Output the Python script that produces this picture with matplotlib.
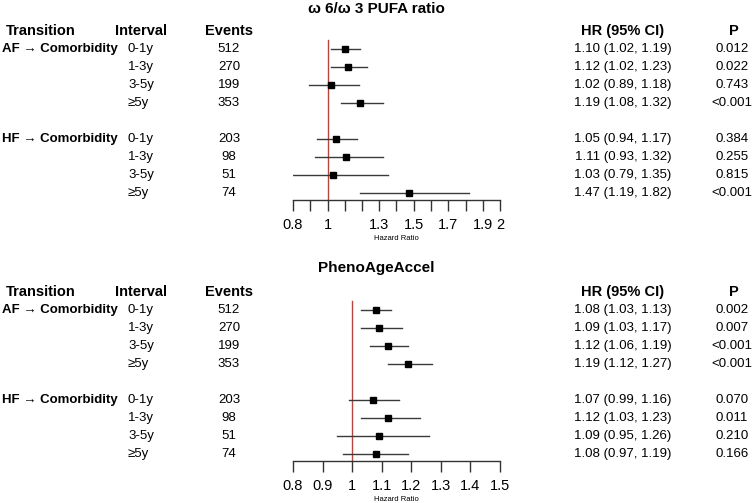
import matplotlib
matplotlib.use("Agg")
import matplotlib.pyplot as plt
import matplotlib.transforms as mtransforms

plt.rcParams['font.family'] = ['Liberation Sans', 'DejaVu Sans']

# ---- data ----
transitions = ["AF \u2192 Comorbidity", "HF \u2192 Comorbidity"]
intervals = ["0-1y", "1-3y", "3-5y", "\u22655y"]
events_af = [512, 270, 199, 353]
events_hf = [203, 98, 51, 74]

# omega 6 / omega 3 PUFA ratio
pufa_hr = [1.10, 1.12, 1.02, 1.19, 1.05, 1.11, 1.03, 1.47]
pufa_lo = [1.02, 1.02, 0.89, 1.08, 0.94, 0.93, 0.79, 1.19]
pufa_hi = [1.19, 1.23, 1.18, 1.32, 1.17, 1.32, 1.35, 1.82]
pufa_p = ["0.012", "0.022", "0.743", "<0.001", "0.384", "0.255", "0.815", "<0.001"]
pufa_ticks = [0.8, 0.9, 1.0, 1.1, 1.2, 1.3, 1.4, 1.5, 1.6, 1.7, 1.8, 1.9, 2.0]
pufa_ticklabels = ["0.8", "", "1", "", "", "1.3", "", "1.5", "", "1.7", "", "1.9", "2"]

# PhenoAgeAccel
pheno_hr = [1.08, 1.09, 1.12, 1.19, 1.07, 1.12, 1.09, 1.08]
pheno_lo = [1.03, 1.03, 1.06, 1.12, 0.99, 1.03, 0.95, 0.97]
pheno_hi = [1.13, 1.17, 1.19, 1.27, 1.16, 1.23, 1.26, 1.19]
pheno_p = ["0.002", "0.007", "<0.001", "<0.001", "0.070", "0.011", "0.210", "0.166"]
pheno_ticks = [0.8, 0.9, 1.0, 1.1, 1.2, 1.3, 1.4, 1.5]
pheno_ticklabels = ["0.8", "0.9", "1", "1.1", "1.2", "1.3", "1.4", "1.5"]

W, H = 752, 503
fig = plt.figure(figsize=(W / 100, H / 100), dpi=100)

row_pos = [1, 2, 3, 4, 6, 7, 8, 9]
y_axis = 9.4


def panel(title, hr, lo, hi, pv, ticks, ticklabels, top_px, axis_px, title_px):
    ax = fig.add_axes([293 / W, 1 - axis_px / H, 207 / W, (axis_px - top_px) / H])
    ax.set_xlim(ticks[0], ticks[-1])
    ax.set_ylim(y_axis, 0)
    for s in ["top", "right", "left"]:
        ax.spines[s].set_visible(False)
    ax.spines["bottom"].set_linewidth(1.0)
    ax.spines["bottom"].set_color("#333333")
    ax.set_yticks([])
    ax.set_xticks(ticks)
    ax.set_xticklabels(ticklabels, fontsize=10.5)
    ax.tick_params(axis="x", length=8, width=1.0, color="#333333", pad=5)
    ax.set_xlabel("Hazard Ratio", fontsize=5.5, labelpad=2)
    ax.patch.set_alpha(0)

    ax.plot([1, 1], [0.5, y_axis], color="#B8443F", lw=1.0, zorder=1)
    for y, h, l, u in zip(row_pos, hr, lo, hi):
        ax.plot([l, u], [y, y], color="#3a3a3a", lw=1.0, zorder=2)
        ax.plot(h, y, marker="s", ms=4.5, color="black", zorder=3)

    tr = mtransforms.blended_transform_factory(fig.transFigure, ax.transData)
    fig.text(0.5, 1 - title_px / H, title, ha="center", va="center",
             fontsize=11, fontweight="bold")
    hdr = dict(transform=tr, va="center", fontsize=10.5, fontweight="bold")
    ax.text(6 / W, 0, "Transition", ha="left", **hdr)
    ax.text(141 / W, 0, "Interval", ha="center", **hdr)
    ax.text(229 / W, 0, "Events", ha="center", **hdr)
    ax.text(623 / W, 0, "HR (95% CI)", ha="center", **hdr)
    ax.text(734 / W, 0, "P", ha="center", **hdr)

    body = dict(transform=tr, va="center", fontsize=9.5)
    ax.text(2 / W, 1, transitions[0], ha="left", fontweight="bold", **body)
    ax.text(2 / W, 6, transitions[1], ha="left", fontweight="bold", **body)
    events = events_af + events_hf
    for i, y in enumerate(row_pos):
        ax.text(128 / W, y, intervals[i % 4], ha="left", **body)
        ax.text(229 / W, y, str(events[i]), ha="center", **body)
        ax.text(623 / W, y, "%.2f (%.2f, %.2f)" % (hr[i], lo[i], hi[i]),
                ha="center", **body)
        ax.text(732 / W, y, pv[i], ha="center", **body)
    return ax


panel("\u03c9 6/\u03c9 3 PUFA ratio", pufa_hr, pufa_lo, pufa_hi, pufa_p,
      pufa_ticks, pufa_ticklabels, top_px=31, axis_px=200, title_px=9)
panel("PhenoAgeAccel", pheno_hr, pheno_lo, pheno_hi, pheno_p,
      pheno_ticks, pheno_ticklabels, top_px=292, axis_px=461, title_px=268)

fig.savefig("out.png", dpi=100)
